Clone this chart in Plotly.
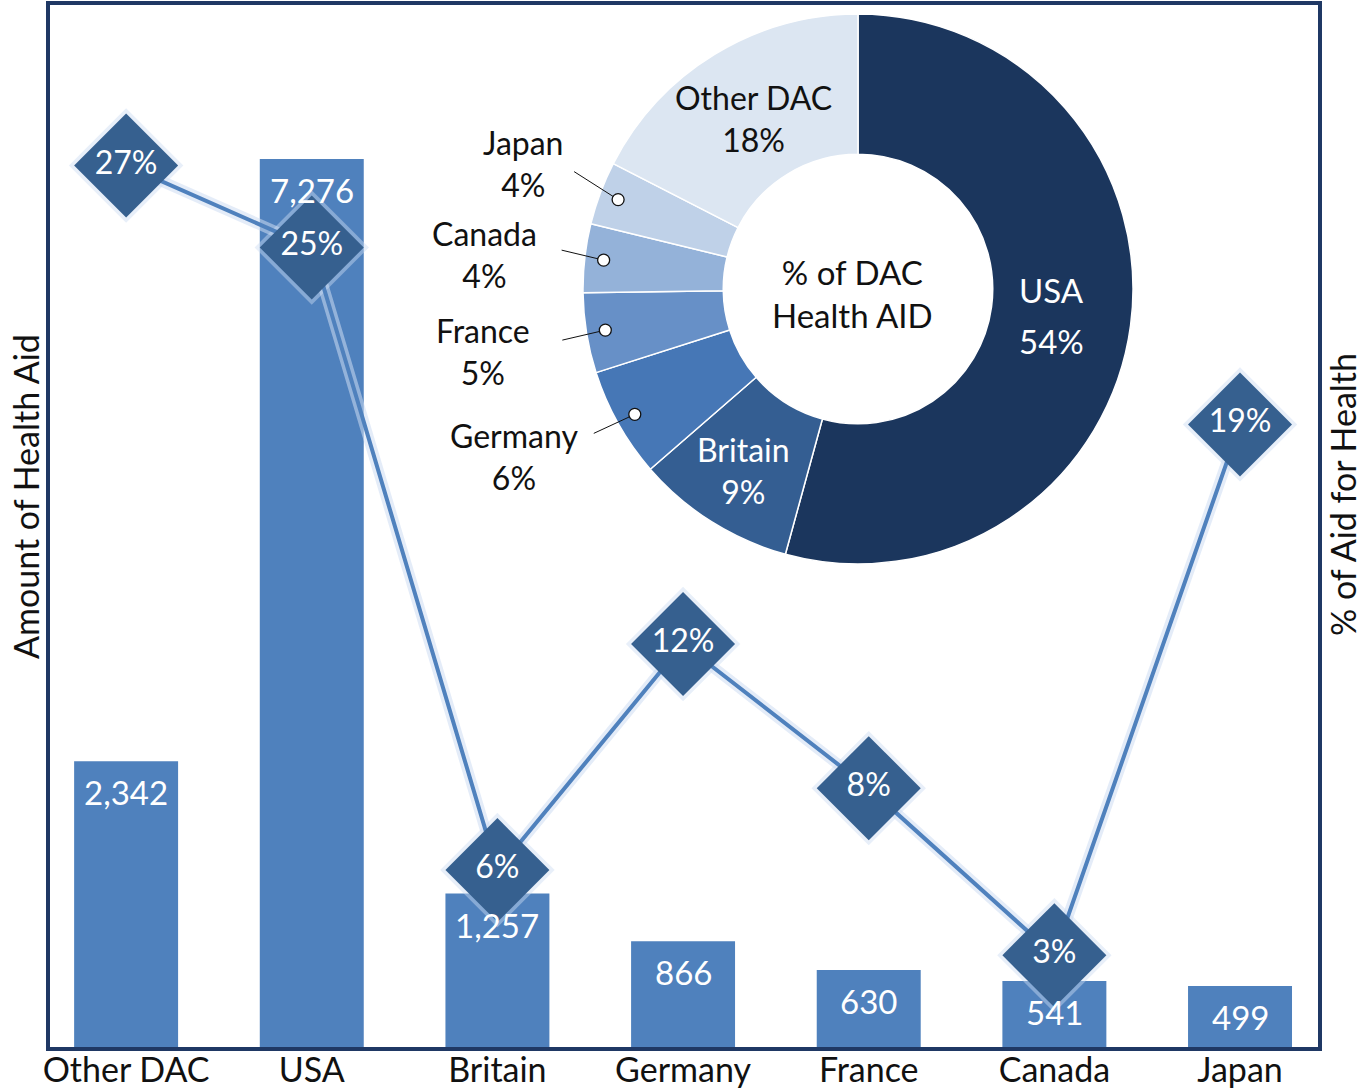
import math
import plotly.graph_objects as go

# ---------------- data ----------------
categories = ["Other DAC", "USA", "Britain", "Germany", "France", "Canada", "Japan"]
health_aid = [2342, 7276, 1257, 866, 630, 541, 499]
bar_labels = ["2,342", "7,276", "1,257", "866", "630", "541", "499"]
pct_aid_for_health = [27.0, 24.5, 5.5, 12.4, 8.0, 2.9, 19.1]
pct_labels = ["27%", "25%", "6%", "12%", "8%", "3%", "19%"]

pie_labels = ["USA", "Britain", "Germany", "France", "Canada", "Japan", "Other DAC"]
pie_values = [7276, 1257, 866, 630, 541, 499, 2342]
pie_pct_labels = ["54%", "9%", "6%", "5%", "4%", "4%", "18%"]
pie_colors = ["#1b365d", "#345e92", "#4677b6", "#6790c7", "#94b2d9", "#bfd1e8", "#dce6f2"]

axis_title_left = "Amount of Health Aid"
axis_title_right = "% of Aid for Health"
center_title = "% of DAC<br>Health AID"

# ---------------- layout constants (pixels) ----------------
W, H = 1372, 1090
ML, MR, MT, MB = 50, 54, 5, 43
PW, PH = W - ML - MR, H - MT - MB
FONT = "Lato"
TXT = "#111111"

BAR_COLOR = "#4f81bd"
DIAMOND_COLOR = "#36608f"
FRAME_COLOR = "#1f3864"

PIE_CX, PIE_CY, PIE_R = 858, 289, 275
HOLE = 0.49


def paper(px, py):
    return (px - ML) / PW, 1 - (py - MT) / PH


fig = go.Figure()

fig.add_trace(go.Bar(
    x=categories, y=health_aid,
    marker=dict(color=BAR_COLOR, line=dict(width=0)),
    width=0.56, hoverinfo="skip",
))

# soft glow under the line
fig.add_trace(go.Scatter(
    x=categories, y=pct_aid_for_health, yaxis="y2", mode="lines+markers",
    line=dict(color="rgba(205,220,242,0.55)", width=11),
    marker=dict(symbol="diamond", size=88, color="rgba(205,220,242,0.45)"),
    hoverinfo="skip",
))

fig.add_trace(go.Scatter(
    x=categories, y=pct_aid_for_health, yaxis="y2",
    mode="lines+markers+text", text=pct_labels, textposition="middle center",
    textfont=dict(family=FONT, size=32, color="white"),
    line=dict(color=BAR_COLOR, width=4),
    marker=dict(symbol="diamond", size=80, color=DIAMOND_COLOR, line=dict(width=0)),
    hoverinfo="skip",
))

# donut inset
x0, y1 = paper(PIE_CX - PIE_R, PIE_CY - PIE_R)
x1, y0 = paper(PIE_CX + PIE_R, PIE_CY + PIE_R)
fig.add_trace(go.Pie(
    labels=pie_labels, values=pie_values, hole=HOLE, sort=False,
    direction="clockwise", rotation=0, textinfo="none",
    marker=dict(colors=pie_colors, line=dict(color="white", width=1.5)),
    domain=dict(x=[x0, x1], y=[y0, y1]), showlegend=False, hoverinfo="skip",
))

annotations = []
shapes = []

# bar value labels (anchored to the bar tops through the data axes)
for c, v, lab in zip(categories, health_aid, bar_labels):
    annotations.append(dict(x=c, y=v, xref="x", yref="y", text=lab,
                            showarrow=False, xanchor="center", yanchor="middle",
                            yshift=-31, font=dict(family=FONT, size=33, color="white")))

# slice mid-angles from the data
total = sum(pie_values)
mid_angles = []
cum = 0
for v in pie_values:
    mid_angles.append((cum + v / 2) / total * 2 * math.pi)
    cum += v


def slice_point(i, r):
    a = mid_angles[i]
    return PIE_CX + r * math.sin(a), PIE_CY - r * math.cos(a)


def label(px, py, text, size, color, yshift=0):
    xp, yp = paper(px, py)
    annotations.append(dict(x=xp, y=yp, xref="paper", yref="paper", text=text,
                            showarrow=False, xanchor="center", yanchor="middle",
                            yshift=yshift, font=dict(family=FONT, size=size, color=color)))


# inside labels
px, py = slice_point(0, 195)
label(px, py, pie_labels[0], 33, "white", yshift=25)
label(px, py, pie_pct_labels[0], 33, "white", yshift=-26)
for i, col, r in ((1, "white", 215), (6, TXT, 200)):
    px, py = slice_point(i, r)
    label(px, py, pie_labels[i] + "<br>" + pie_pct_labels[i], 32, col)

# outside labels with leader lines and dots
outside = {
    5: ((-95, -36), (-44, -28)),
    4: ((-119, -6), (-42, -10)),
    3: ((-122, 21), (-43, 10)),
    2: ((-121, 42), (-41, 19)),
}
for i, ((tx, ty), (lx, ly)) in outside.items():
    px, py = slice_point(i, 256)
    label(px + tx, py + ty, pie_labels[i] + "<br>" + pie_pct_labels[i], 32, TXT)
    xp, yp = paper(px, py)
    shapes.append(dict(type="line", xref="paper", yref="paper",
                       xsizemode="pixel", ysizemode="pixel",
                       xanchor=xp, yanchor=yp, x0=lx, x1=0, y0=-ly, y1=0,
                       line=dict(color=TXT, width=1), layer="above"))
    shapes.append(dict(type="circle", xref="paper", yref="paper",
                       xsizemode="pixel", ysizemode="pixel",
                       xanchor=xp, yanchor=yp, x0=-6, x1=6, y0=-6, y1=6,
                       fillcolor="white", line=dict(color=TXT, width=1.3),
                       layer="above"))

label(PIE_CX - 5, PIE_CY + 4, center_title, 33, TXT)

# axis titles
xl, yl = paper(25, 497)
annotations.append(dict(x=xl, y=yl, xref="paper", yref="paper", text=axis_title_left,
                        textangle=-90, showarrow=False, xanchor="center", yanchor="middle",
                        font=dict(family=FONT, size=34, color=TXT)))
xr, yr = paper(1343, 495)
annotations.append(dict(x=xr, y=yr, xref="paper", yref="paper", text=axis_title_right,
                        textangle=-90, showarrow=False, xanchor="center", yanchor="middle",
                        font=dict(family=FONT, size=34, color=TXT)))

fig.update_layout(
    width=W, height=H,
    margin=dict(l=ML, r=MR, t=MT, b=MB, autoexpand=False),
    paper_bgcolor="white", plot_bgcolor="white",
    showlegend=False,
    font=dict(family=FONT, color=TXT),
    xaxis=dict(
        type="category", range=[-0.41, 6.42], showgrid=False, zeroline=False,
        showline=True, linecolor=FRAME_COLOR, linewidth=4, mirror=True,
        ticks="", ticklabelstandoff=-10,
        tickfont=dict(family=FONT, size=34, color=TXT),
    ),
    yaxis=dict(
        range=[0, 8538], showgrid=False, zeroline=False, showticklabels=False,
        ticks="", showline=True, linecolor=FRAME_COLOR, linewidth=4, mirror=True,
    ),
    yaxis2=dict(
        overlaying="y", side="right", range=[0.1, 31.9], showgrid=False,
        zeroline=False, showticklabels=False, ticks="", showline=False,
    ),
    annotations=annotations,
    shapes=shapes,
)

fig.write_html("out.html", config={"displayModeBar": False},
               post_script="document.body.style.margin='0px';")
